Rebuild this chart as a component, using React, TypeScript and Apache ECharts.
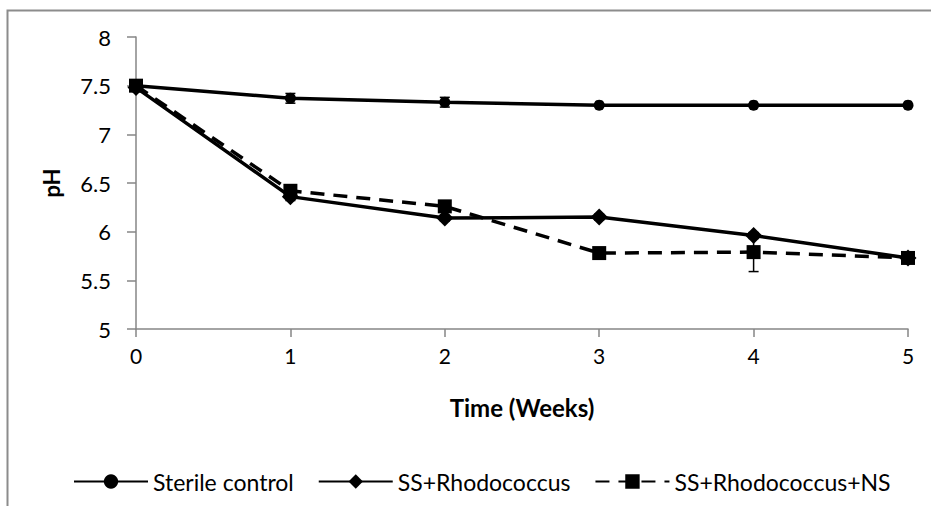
import React, { useEffect, useRef } from "react";
import * as echarts from "echarts";

const weeks = [0, 1, 2, 3, 4, 5];
const sterileControl = [7.5, 7.37, 7.33, 7.3, 7.3, 7.3];
const sterileErr = [0.02, 0.05, 0.05, 0.01, 0.01, 0.01];
const ssRhodo = [7.48, 6.36, 6.14, 6.15, 5.96, 5.73];
const ssRhodoErr = [0.03, 0.04, 0.03, 0.03, 0.03, 0.02];
const ssRhodoNs = [7.5, 6.42, 6.26, 5.78, 5.79, 5.73];
const ssRhodoNsErr = [0.03, 0.04, 0.04, 0.03, 0.2, 0.02];
const seriesNames = ["Sterile control", "SS+Rhodococcus", "SS+Rhodococcus+NS"];
const xTicks = [0, 1, 2, 3, 4, 5];
const yTicks = [5, 5.5, 6, 6.5, 7, 7.5, 8];

const FONT = "Lato, 'Open Sans', sans-serif";

function pairs(vals: number[]) {
  return weeks.map((w, i) => [w, vals[i]]);
}
function errData(vals: number[], errs: number[]) {
  return weeks.map((w, i) => [w, vals[i] - errs[i], vals[i] + errs[i]]);
}

function errorSeries(vals: number[], errs: number[]) {
  return {
    type: "custom",
    silent: true,
    z: 1,
    renderItem: (params: any, api: any) => {
      const x = api.value(0);
      const lo = api.coord([x, api.value(1)]);
      const hi = api.coord([x, api.value(2)]);
      const hw = 5;
      const st = { stroke: "#000", lineWidth: 1.5 };
      return {
        type: "group",
        children: [
          { type: "line", shape: { x1: lo[0], y1: lo[1], x2: hi[0], y2: hi[1] }, style: st },
          { type: "line", shape: { x1: lo[0] - hw, y1: lo[1], x2: lo[0] + hw, y2: lo[1] }, style: st },
          { type: "line", shape: { x1: hi[0] - hw, y1: hi[1], x2: hi[0] + hw, y2: hi[1] }, style: st },
        ],
      };
    },
    data: errData(vals, errs),
  };
}

export default function App() {
  const ref = useRef<HTMLDivElement>(null);
  useEffect(() => {
    if (!ref.current) return;
    const chart = echarts.init(ref.current, undefined, { renderer: "svg" });
    const lineCommon = (name: string, vals: number[], symbol: string, size: number, dashed: boolean) => ({
      name,
      type: "line",
      data: pairs(vals),
      symbol,
      symbolSize: size,
      z: 3,
      itemStyle: { color: "#000" },
      lineStyle: { color: "#000", width: 3.5, type: dashed ? [14, 9] : "solid" },
    });
    chart.setOption({
      animation: false,
      backgroundColor: "#fff",
      textStyle: { fontFamily: FONT },
      graphic: [
        {
          type: "rect",
          left: 5,
          top: 8,
          shape: { width: 1000, height: 600 },
          style: { fill: "none", stroke: "#8c8c8c", lineWidth: 2 },
          silent: true,
        },
      ],
      grid: { left: 136, right: 23, top: 37, bottom: 177 },
      legend: {
        data: seriesNames,
        left: 73,
        top: 470,
        padding: 0,
        itemWidth: 74,
        itemHeight: 18,
        itemGap: 24,
        textStyle: { fontFamily: FONT, fontSize: 23, color: "#000" },
      },
      xAxis: {
        type: "value",
        min: 0,
        max: 5,
        interval: 1,
        name: "Time (Weeks)",
        nameLocation: "middle",
        nameGap: 66,
        nameTextStyle: { fontFamily: FONT, fontSize: 24, fontWeight: "bold", color: "#000" },
        axisLine: { lineStyle: { color: "#868686", width: 1.5 } },
        axisTick: { show: true, inside: false, length: 8, lineStyle: { color: "#868686", width: 1.5 } },
        axisLabel: { fontFamily: FONT, fontSize: 21, color: "#000", margin: 16 },
        splitLine: { show: false },
      },
      yAxis: {
        type: "value",
        min: 5,
        max: 8,
        interval: 0.5,
        name: "pH",
        nameLocation: "middle",
        nameGap: 74,
        nameRotate: 90,
        nameTextStyle: { fontFamily: FONT, fontSize: 22, fontWeight: "bold", color: "#000" },
        axisLine: { show: true, lineStyle: { color: "#868686", width: 1.5 } },
        axisTick: { show: true, inside: false, length: 9, lineStyle: { color: "#868686", width: 1.5 } },
        axisLabel: { fontFamily: FONT, fontSize: 22, color: "#000", margin: 25 },
        splitLine: { show: false },
      },
      series: [
        lineCommon(seriesNames[0], sterileControl, "circle", 11, false),
        lineCommon(seriesNames[1], ssRhodo, "diamond", 17, false),
        lineCommon(seriesNames[2], ssRhodoNs, "rect", 14, true),
        errorSeries(sterileControl, sterileErr),
        errorSeries(ssRhodo, ssRhodoErr),
        errorSeries(ssRhodoNs, ssRhodoNsErr),
      ],
    });
    return () => chart.dispose();
  }, []);
  return (
    <div
      ref={ref}
      style={{ position: "fixed", left: 0, top: 0, width: 931, height: 506 }}
      data-ticks={JSON.stringify({ xTicks, yTicks })}
    />
  );
}
